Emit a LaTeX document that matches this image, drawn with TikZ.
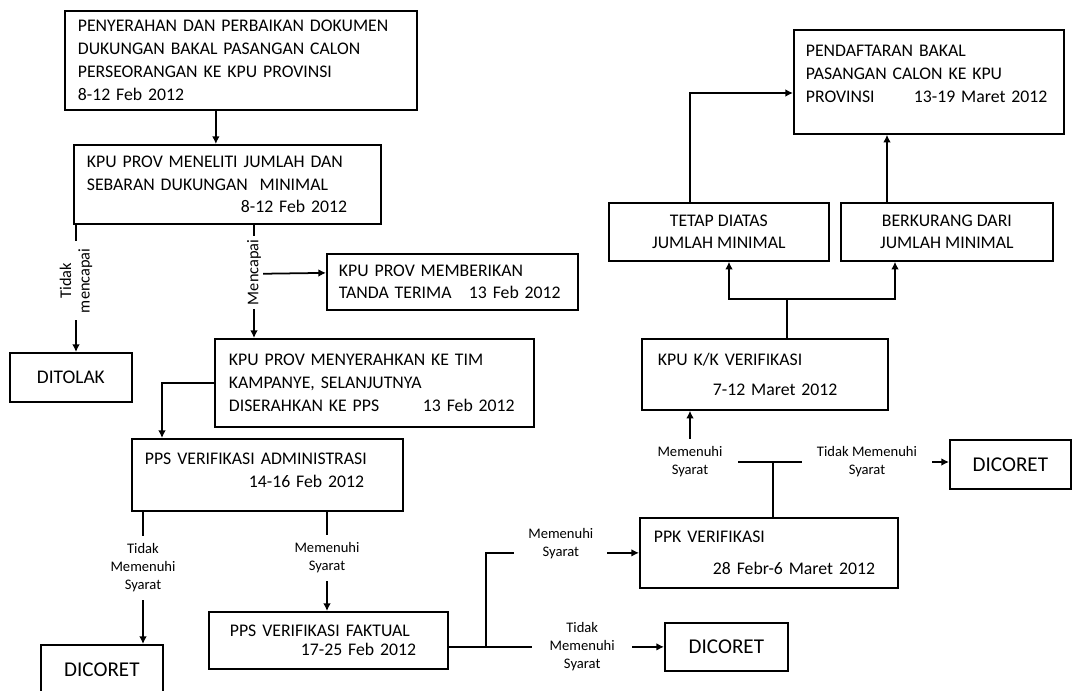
\documentclass[tikz,border=0pt]{standalone}
\usepackage{fontspec}
\setmainfont{Carlito}
\usetikzlibrary{calc}
\usetikzlibrary{arrows.meta}

\tikzset{
	kotak/.style={draw, anchor=north west, align=left, inner ysep=0pt, font=\fontsize{10.1}{13}\selectfont},
	kotaktengah/.style={kotak, align=center},
	ket/.style={fill=white, align=center, inner sep=0pt, font=\fontsize{8.3}{10.2}\selectfont},
	ketputar/.style={ket, rotate=90, font=\fontsize{9.3}{10.6}\selectfont}
}

\begin{document}
\begin{tikzpicture}[>={Latex[length=4.3pt,width=4.3pt]}, x=0.02cm, y=-0.02cm, line width=1pt]
			\useasboundingbox (0,0) rectangle (1072,690);
			%coordinates
			\coordinate (ULpen)    at (64,10);
			\coordinate (ULteliti) at (73,144);
			\coordinate (ULtolak)  at (9,352);
			\coordinate (ULterima) at (326,253);
			\coordinate (ULserah)  at (214,338);
			\coordinate (ULadmin)  at (131,438);
			\coordinate (ULcoretA) at (40,644);
			\coordinate (ULfaktual) at (208,611);
			\coordinate (ULcoretB) at (664,622);
			\coordinate (ULppk)    at (639,517);
			\coordinate (ULcoretC) at (949,439);
			\coordinate (ULkk)     at (641,338);
			\coordinate (ULtetap)  at (608,202);
			\coordinate (ULkurang) at (840,202);
			\coordinate (ULdaftar) at (793,29);
			
			%nodes
			\node[kotak, minimum width=7.04cm, minimum height=1.98cm, text width=6.52cm, inner xsep=0.26cm] (pen) at (ULpen) {PENYERAHAN DAN PERBAIKAN DOKUMEN\\DUKUNGAN BAKAL PASANGAN CALON\\PERSEORANGAN KE KPU PROVINSI\\8-12 Feb 2012};
			\node[kotak, minimum width=6.14cm, minimum height=1.58cm, text width=5.62cm, inner xsep=0.26cm] (teliti) at (ULteliti) {KPU PROV MENELITI JUMLAH DAN\\SEBARAN DUKUNGAN\ \ MINIMAL\\\hspace*{3.08cm}8-12 Feb 2012};
			\node[kotaktengah, minimum width=2.44cm, minimum height=0.98cm, font=\fontsize{11}{13}\selectfont] (tolak) at (ULtolak) {DITOLAK};
			\node[kotak, minimum width=5.02cm, minimum height=1.12cm, text width=4.54cm, inner xsep=0.24cm] (terima) at (ULterima) {KPU PROV MEMBERIKAN\\\makebox[2.6cm][l]{TANDA TERIMA}13 Feb 2012};
			\node[kotak, minimum width=6.38cm, minimum height=1.76cm, text width=5.82cm, inner xsep=0.28cm] (serah) at (ULserah) {KPU PROV MENYERAHKAN KE TIM\\KAMPANYE, SELANJUTNYA\\\makebox[3.88cm][l]{DISERAHKAN KE PPS}13 Feb 2012};
			\node[kotak, minimum width=5.42cm, minimum height=1.44cm, text width=4.90cm, inner xsep=0.26cm] (admin) at (ULadmin) {PPS VERIFIKASI ADMINISTRASI\\\hspace*{2.08cm}14-16 Feb 2012\\[-0.26cm]\mbox{}};
			\node[kotaktengah, minimum width=2.44cm, minimum height=0.98cm, font=\fontsize{12}{14}\selectfont] (coretA) at (ULcoretA) {DICORET};
			\node[kotak, minimum width=4.78cm, minimum height=1.14cm, text width=3.94cm, inner xsep=0.42cm] (faktual) at (ULfaktual) {PPS VERIFIKASI FAKTUAL\\[-0.06cm]\hspace*{1.42cm}17-25 Feb 2012};
			\node[kotaktengah, minimum width=2.46cm, minimum height=0.96cm, font=\fontsize{12}{14}\selectfont] (coretB) at (ULcoretB) {DICORET};
			\node[kotak, minimum width=5.16cm, minimum height=1.40cm, text width=4.60cm, inner xsep=0.28cm] (ppk) at (ULppk) {PPK VERIFIKASI\\[0.18cm]\hspace*{1.18cm}28 Febr-6 Maret 2012};
			\node[kotaktengah, minimum width=2.42cm, minimum height=0.98cm, font=\fontsize{12}{14}\selectfont] (coretC) at (ULcoretC) {DICORET};
			\node[kotak, minimum width=4.92cm, minimum height=1.42cm, text width=4.28cm, inner xsep=0.32cm] (kk) at (ULkk) {KPU K/K VERIFIKASI\\[0.16cm]\hspace*{1.10cm}7-12 Maret 2012};
			\node[kotaktengah, minimum width=4.40cm, minimum height=1.16cm] (tetap) at (ULtetap) {TETAP DIATAS\\JUMLAH MINIMAL};
			\node[kotaktengah, minimum width=4.24cm, minimum height=1.16cm] (kurang) at (ULkurang) {BERKURANG DARI\\JUMLAH MINIMAL};
			\node[kotak, minimum width=5.40cm, minimum height=2.08cm, text width=4.92cm, inner xsep=0.24cm] (daftar) at (ULdaftar) {PENDAFTARAN BAKAL\\PASANGAN CALON KE KPU\\\makebox[2.16cm][l]{PROVINSI}13-19 Maret 2012\\[-0.14cm]\mbox{}};
			
			%left column
			\draw[->] ($(pen.south)+(-25,0)$) coordinate (pt) -- (pt |- teliti.north);
			\draw[->] ($(teliti.south west)+(3,0)$) coordinate (tm) -- node[ketputar, pos=0.44, inner xsep=4pt, inner ysep=1pt]{Tidak\\mencapai} (tm |- tolak.north);
			\draw[->] ($(teliti.south west)+(190,49)$) -- ($(terima.west)+(0,-9)$);
			\draw[->] ($(teliti.south west)+(181,0)$) coordinate (mc) -- node[ketputar, pos=0.42, inner xsep=2pt, inner ysep=1pt]{Mencapai} (mc |- serah.north);
			\draw[->] (serah.west) -| ($(admin.north west)+(31,0)$);
			\draw[->] ($(admin.south west)+(12,0)$) coordinate (ta) -- node[ket, pos=0.425, inner xsep=2pt, inner ysep=4.5pt]{Tidak\\Memenuhi\\Syarat} (ta |- coretA.north);
			\draw[->] ($(admin.south west)+(196,0)$) coordinate (ma) -- node[ket, pos=0.465, inner xsep=2pt, inner ysep=4.5pt]{Memenuhi\\Syarat} (ma |- faktual.north);
			
			%faktual to ppk
			\draw[->] (faktual.east |- coretB.west) coordinate (fk) -- node[ket, pos=0.62, inner xsep=10pt, inner ysep=1pt]{Tidak\\Memenuhi\\Syarat} (coretB.west);
			\draw[->] ($(fk)+(37,0)$) |- node[ket, pos=0.745, yshift=0.18cm, inner xsep=8pt, inner ysep=1pt]{Memenuhi\\Syarat} (ppk.west);
			
			%ppk to kk
			\draw ($(ppk.north west)+(134,0)$) -- ++(0,-55) coordinate (jp);
			\draw[->] (jp) -| node[ket, pos=0.5, inner xsep=9pt, inner ysep=4.5pt]{Memenuhi\\Syarat} ($(kk.south west)+(49,0)$);
			\draw[->] (jp) -- node[ket, pos=0.534, inner xsep=8.5pt, inner ysep=1pt]{Tidak Memenuhi\\Syarat} (jp -| coretC.west);
			
			%kk to daftar
			\draw ($(kk.north west)+(146,0)$) -- ++(0,-39) coordinate (jk);
			\draw[->] (jk) -| ($(tetap.south west)+(121,0)$);
			\draw[->] (jk) -| ($(kurang.south west)+(55,0)$);
			\draw[->] ($(tetap.north west)+(82,0)$) |- ($(daftar.north west)+(0,64)$);
			\draw[->] ($(kurang.north west)+(47,0)$) coordinate (kd) -- (kd |- daftar.south);
\end{tikzpicture}
\end{document}
